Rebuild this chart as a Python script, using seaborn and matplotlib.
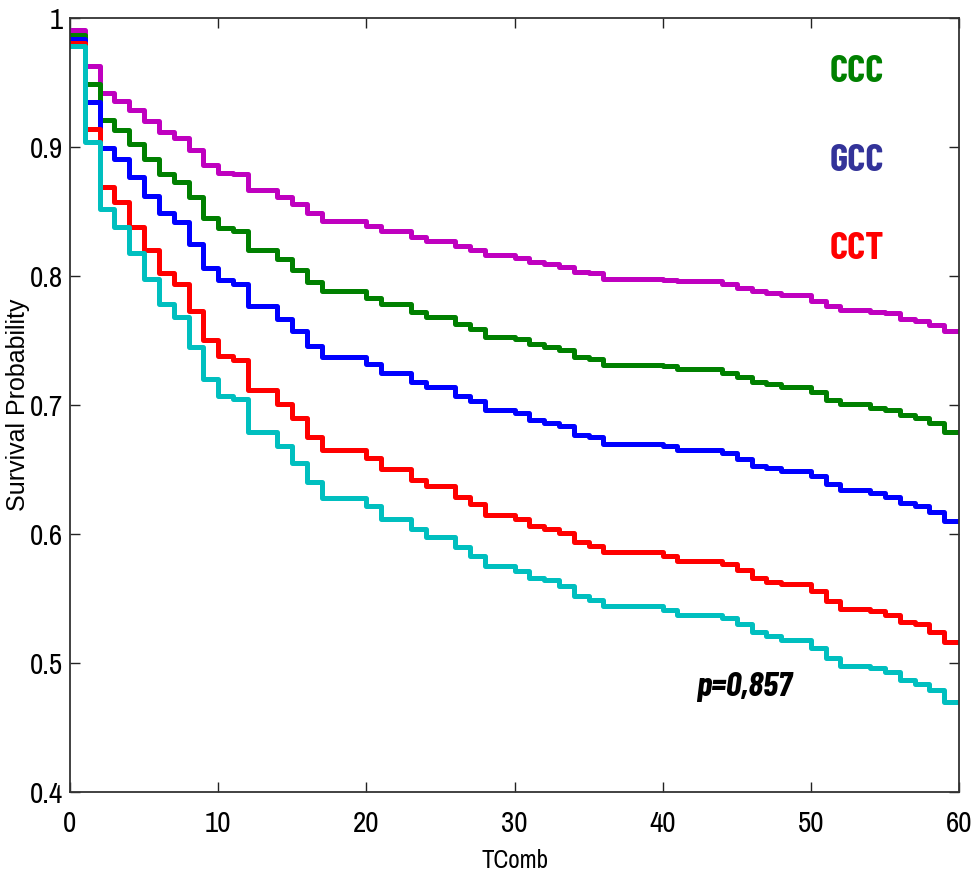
import numpy as np
import pandas as pd
import matplotlib
matplotlib.use("Agg")
import matplotlib.pyplot as plt
import seaborn as sns

# ---- data ----
times = [0, 1, 2, 3, 4, 5, 6, 7, 8, 9, 10, 11, 12, 14, 15, 16, 17, 20, 21, 23, 24,
         26, 27, 28, 30, 31, 32, 33, 34, 35, 36, 40, 41, 44, 45, 46, 47, 48, 50,
         51, 52, 54, 55, 56, 57, 58, 59, 60]

surv_magenta = [0.991, 0.963, 0.942, 0.936, 0.929, 0.920, 0.912, 0.907, 0.898, 0.886,
                0.880, 0.879, 0.867, 0.861, 0.856, 0.849, 0.843, 0.839, 0.835, 0.830,
                0.827, 0.823, 0.820, 0.816, 0.814, 0.811, 0.809, 0.807, 0.803, 0.802,
                0.798, 0.797, 0.796, 0.794, 0.791, 0.788, 0.787, 0.785, 0.781, 0.777,
                0.774, 0.772, 0.771, 0.767, 0.765, 0.762, 0.757, 0.757]
surv_ccc = [0.987, 0.949, 0.921, 0.913, 0.902, 0.891, 0.879, 0.873, 0.861, 0.845,
            0.837, 0.835, 0.820, 0.813, 0.805, 0.795, 0.788, 0.783, 0.778, 0.772,
            0.768, 0.763, 0.759, 0.753, 0.751, 0.747, 0.745, 0.743, 0.737, 0.736,
            0.731, 0.730, 0.728, 0.725, 0.722, 0.718, 0.716, 0.714, 0.710, 0.704,
            0.701, 0.698, 0.696, 0.692, 0.690, 0.686, 0.679, 0.679]
surv_gcc = [0.984, 0.935, 0.899, 0.891, 0.877, 0.862, 0.849, 0.842, 0.825, 0.806,
            0.797, 0.794, 0.777, 0.767, 0.757, 0.746, 0.737, 0.732, 0.725, 0.718,
            0.714, 0.707, 0.703, 0.696, 0.694, 0.688, 0.686, 0.684, 0.677, 0.675,
            0.670, 0.668, 0.665, 0.663, 0.658, 0.653, 0.651, 0.649, 0.645, 0.639,
            0.634, 0.632, 0.629, 0.624, 0.622, 0.617, 0.610, 0.610]
surv_cct = [0.981, 0.914, 0.869, 0.857, 0.838, 0.820, 0.802, 0.794, 0.773, 0.750,
            0.738, 0.735, 0.712, 0.701, 0.690, 0.675, 0.665, 0.659, 0.650, 0.642,
            0.637, 0.629, 0.623, 0.615, 0.612, 0.606, 0.604, 0.601, 0.594, 0.591,
            0.586, 0.583, 0.579, 0.577, 0.572, 0.566, 0.563, 0.561, 0.556, 0.548,
            0.542, 0.540, 0.537, 0.532, 0.530, 0.524, 0.516, 0.516]
surv_cyan = [0.978, 0.904, 0.852, 0.838, 0.818, 0.798, 0.778, 0.768, 0.745, 0.720,
             0.707, 0.705, 0.679, 0.668, 0.655, 0.640, 0.628, 0.622, 0.612, 0.604,
             0.598, 0.590, 0.583, 0.575, 0.571, 0.566, 0.564, 0.560, 0.552, 0.549,
             0.544, 0.541, 0.537, 0.535, 0.530, 0.524, 0.521, 0.518, 0.512, 0.504,
             0.498, 0.496, 0.493, 0.487, 0.484, 0.479, 0.470, 0.470]

groups = ["group 1", "CCC", "GCC", "CCT", "group 5"]
series = [surv_magenta, surv_ccc, surv_gcc, surv_cct, surv_cyan]
colors = ["#BF00BF", "#008000", "#0000FF", "#FF0000", "#00BFBF"]

x_ticks = [0, 10, 20, 30, 40, 50, 60]
y_ticks = [0.4, 0.5, 0.6, 0.7, 0.8, 0.9, 1.0]
y_tick_labels = ["0.4", "0.5", "0.6", "0.7", "0.8", "0.9", "1"]

label_texts = ["CCC", "GCC", "CCT"]
label_colors = ["#008000", "#333399", "#FF0000"]
label_y = [0.958, 0.889, 0.821]
p_text = "p=0,857"

# ---- build long table ----
rows = []
for g, s in zip(groups, series):
    for t, v in zip(times, s):
        rows.append({"TComb": t, "Survival": v, "group": g})
df = pd.DataFrame(rows)

sns.set_theme(style="ticks")
narrow = ["Archivo Narrow", "Barlow Condensed", "Liberation Sans", "DejaVu Sans"]
bold_narrow = ["Barlow Condensed", "Archivo Narrow", "Liberation Sans", "DejaVu Sans"]
plt.rcParams["font.family"] = narrow

fig = plt.figure(figsize=(9.74, 8.88), dpi=100)
ax = fig.add_axes([70 / 974, 96 / 888, 889 / 974, 774 / 888])

sns.lineplot(data=df, x="TComb", y="Survival", hue="group", hue_order=groups,
             palette=dict(zip(groups, colors)), drawstyle="steps-post",
             linewidth=3.6, estimator=None, legend=False, ax=ax)

ax.set_xlim(0, 60)
ax.set_ylim(0.4, 1.0)
ax.set_xticks(x_ticks)
ax.set_xticklabels([str(v) for v in x_ticks])
ax.set_yticks(y_ticks)
ax.set_yticklabels(y_tick_labels)

for sp in ax.spines.values():
    sp.set_visible(True)
    sp.set_color("#333333")
    sp.set_linewidth(1.3)

ax.tick_params(axis="both", which="both", direction="in", length=7, width=1.0,
               color="#222222", top=True, right=True, labelsize=21, labelcolor="black")
ax.tick_params(axis="x", pad=13)
ax.tick_params(axis="y", pad=5)

ax.set_xlabel("TComb", fontsize=18, color="black")
ax.xaxis.set_label_coords(0.5, -0.088)
ax.xaxis.label.set_va("center")

ax.set_ylabel("Survival Probability", fontsize=18, color="black",
              family=["Liberation Sans", "DejaVu Sans"])
ax.yaxis.set_label_coords(-0.0585, 0.5)
ax.yaxis.label.set_va("center")

for txt, col, yv in zip(label_texts, label_colors, label_y):
    ax.text(53.1, yv, txt, color=col, fontsize=28, fontweight="bold",
            family=bold_narrow, ha="center", va="center")

ax.text(45.5, 0.4812, p_text, fontsize=25, fontweight="bold", fontstyle="italic",
        family=bold_narrow, ha="center", va="center", color="black")

fig.savefig("out.png", dpi=100)
